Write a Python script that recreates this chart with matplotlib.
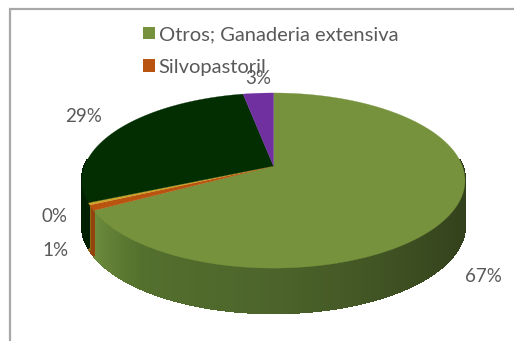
import numpy as np
import matplotlib
matplotlib.use("Agg")
import matplotlib.pyplot as plt
from matplotlib.patches import Patch
from matplotlib.colors import LinearSegmentedColormap

plt.rcParams['font.family'] = ['Lato', 'DejaVu Sans']

# Land-use shares, clockwise from twelve o'clock
categories = ["Otros; Ganaderia extensiva", "Silvopastoril", "Sin nombre", "Bosque", "Otro uso"]
shares = [67.0, 1.0, 0.4, 28.6, 3.0]
top_colors = ["#76923c", "#b8540f", "#c9a227", "#022e02", "#7030a0"]
side_colors = [None, "#94430c", "#8a6f18", "#011f01", "#4f2272"]
legend_entries = [0, 1]
label_xy = [(483, 277), (55, 251), (55, 216), (84, 117), (258, 79)]

# Perspective disc placed in pixel space
APEX = (273.5, 166.0)
K, A, C = 0.166, -57.6, 188.8
DEPTH = 45
TEXT = "#595959"


def project(theta):
    """Map a clockwise angle from the top of the unit disc to canvas pixels."""
    x, y = np.sin(theta), np.cos(theta)
    w = 1 + K * y
    return APEX[0] + C * x / w, (APEX[1] + A * y) / w


fig = plt.figure(figsize=(5.14, 3.41), dpi=100, facecolor="white")
ax = fig.add_axes([0, 0, 1, 1])
ax.set_xlim(0, 514)
ax.set_ylim(341, 0)
ax.axis("off")

# Picture frame along the top and left edges
ax.plot([9.5, 9.5, 514], [341, 9, 9], color="#a8a8a8", lw=1.6, solid_joinstyle="miter")

edges = np.cumsum([0] + shares) / sum(shares) * 2 * np.pi

# Rim: only the part of each slice facing the viewer
side_cmap = LinearSegmentedColormap.from_list(
    "rim", [(0, "#2c3818"), (0.3, "#39491f"), (0.62, "#4d652b"), (0.85, "#54702e"), (1, "#6d8c3c")])
front_start = np.deg2rad(86)
front_end = np.deg2rad(274)
for i in range(len(shares)):
    t0, t1 = max(edges[i], front_start), min(edges[i + 1], front_end)
    if t1 <= t0:
        continue
    steps = np.linspace(t0, t1, max(2, int(np.degrees(t1 - t0) * 1.5)))
    for a, b in zip(steps[:-1], steps[1:]):
        xa, ya = project(np.array([a, b]))
        if side_colors[i] is None:
            color = side_cmap(((a + b) / 2 - front_start) / (edges[i + 1] - front_start))
        else:
            color = side_colors[i]
        ax.fill([xa[0], xa[1], xa[1], xa[0]],
                [ya[0], ya[1], ya[1] + DEPTH, ya[0] + DEPTH],
                facecolor=color, edgecolor=color, lw=1.0, antialiased=False, zorder=2)

# Top face of the pie
for i in range(len(shares)):
    theta = np.linspace(edges[i], edges[i + 1], 200)
    px, py = project(theta)
    ax.fill(np.r_[APEX[0], px], np.r_[APEX[1], py], color=top_colors[i], lw=0.2, zorder=3)

# Percentage labels
for share, (lx, ly) in zip(shares, label_xy):
    ax.text(lx, ly, f"{share:.0f}%", color=TEXT, fontsize=13.5, ha="center", va="center", zorder=5)

# Legend keeps only the two leading categories
handles = [Patch(facecolor=top_colors[i], label=categories[i]) for i in legend_entries]
leg = ax.legend(handles=handles, loc="upper left", bbox_to_anchor=(142.5 / 514, 1 - 26 / 341),
                frameon=False, fontsize=14.5, labelcolor=TEXT, handlelength=0.6, handleheight=0.6,
                handletextpad=0.2, labelspacing=0.78, borderpad=0, borderaxespad=0)
leg.set_zorder(4)

fig.savefig("out.png", dpi=100)
